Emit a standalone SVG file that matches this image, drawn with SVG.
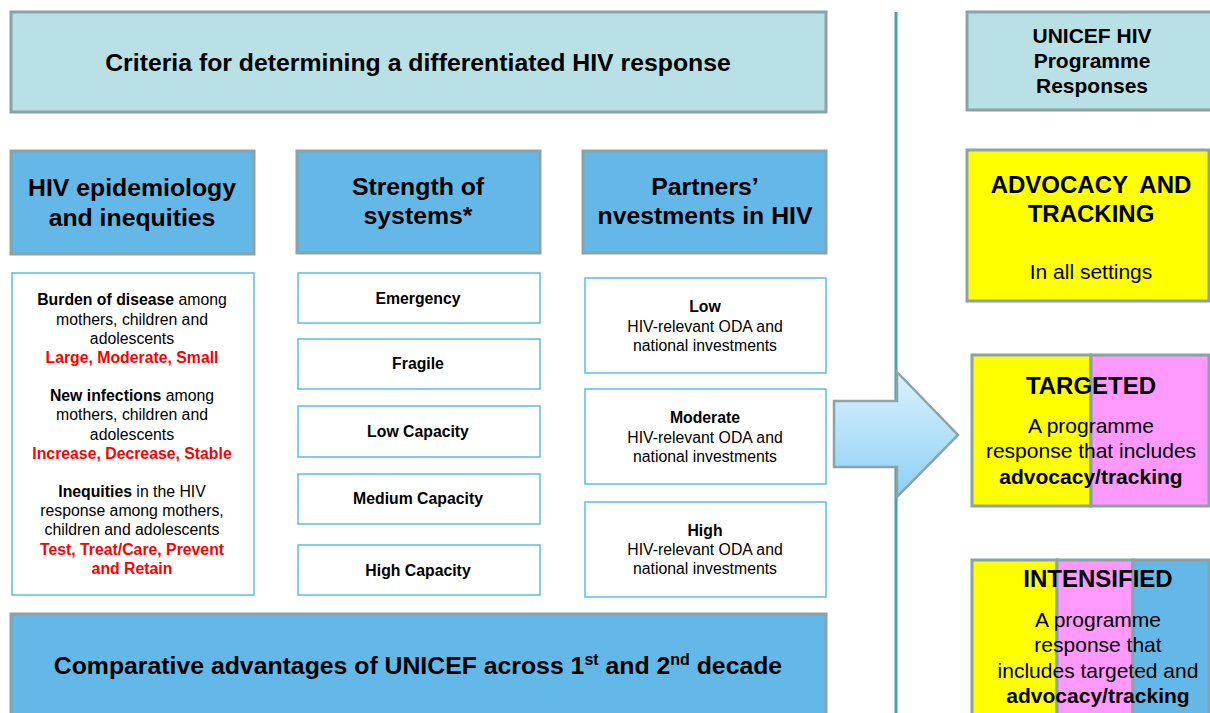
<svg xmlns="http://www.w3.org/2000/svg" width="1210" height="713" viewBox="0 0 1210 713">
  <defs>
    <linearGradient id="arrowFill" x1="0" y1="0" x2="0" y2="1">
      <stop offset="0" stop-color="#DCF1FC"/>
      <stop offset="1" stop-color="#8CD0F6"/>
    </linearGradient>
    <style>
      text { font-family: "Liberation Sans", Arial, sans-serif; fill: #000; text-anchor: middle; }
      .pale { fill: #B9E0E4; stroke: #8AA3A7; stroke-width: 3; }
      .head { fill: #63B8E7; stroke: #8AA3A7; stroke-width: 3; }
      .item { fill: #FFFFFF; stroke: #5BBBEA; stroke-width: 1.5; }
      .yel { fill: #FFFF00; stroke: #8AA3A7; stroke-width: 3; }
      .pink { fill: #FF99FF; stroke: #8AA3A7; stroke-width: 3; }
      .blue { fill: #63B8E7; stroke: #8AA3A7; stroke-width: 3; }
      .t25 { font-size: 24.8px; font-weight: bold; }
      .t24 { font-size: 24px; font-weight: bold; }
      .t21b { font-size: 21px; font-weight: bold; }
      .t21 { font-size: 21px; }
      .s { font-size: 15.8px; }
      .sb { font-size: 15.8px; font-weight: bold; }
      .red { fill: #FF0000; font-weight: bold; }
      .b { font-weight: bold; }
    </style>
  </defs>

  <rect width="1210" height="713" fill="#FFFFFF"/>

  <!-- divider between criteria and programme responses -->
  <g id="divider">
    <line x1="896" y1="12" x2="896" y2="713" stroke="#4F9CA6" stroke-width="3"/>
  </g>

  <!-- title -->
  <g id="criteria-title">
    <rect class="pale" x="11" y="12" width="815" height="100"/>
    <text class="t25" x="418" y="71">Criteria for determining a differentiated HIV response</text>
  </g>

  <!-- column headers -->
  <g id="hdr-epidemiology">
    <rect class="head" x="11" y="151" width="243" height="103"/>
    <text class="t25" x="132" y="196">HIV epidemiology</text>
    <text class="t25" x="132" y="226">and inequities</text>
  </g>
  <g id="hdr-systems">
    <rect class="head" x="297" y="151" width="243" height="102"/>
    <text class="t25" x="418" y="195">Strength of</text>
    <text class="t25" x="418" y="224">systems*</text>
  </g>
  <g id="hdr-investments">
    <rect class="head" x="583" y="151" width="243" height="102"/>
    <text class="t25" x="705" y="195">Partners’</text>
    <text class="t25" x="705" y="224">nvestments in HIV</text>
  </g>

  <!-- epidemiology criteria -->
  <g id="epi-criteria">
    <rect class="item" x="12" y="273" width="242" height="322"/>
    <text class="s" x="132" y="305"><tspan class="b">Burden of disease</tspan> among</text>
    <text class="s" x="132" y="325">mothers, children and</text>
    <text class="s" x="132" y="344">adolescents</text>
    <text class="s red" x="132" y="363">Large, Moderate, Small</text>
    <text class="s" x="132" y="401"><tspan class="b">New infections</tspan> among</text>
    <text class="s" x="132" y="420">mothers, children and</text>
    <text class="s" x="132" y="440">adolescents</text>
    <text class="s red" x="132" y="459">Increase, Decrease, Stable</text>
    <text class="s" x="132" y="497"><tspan class="b">Inequities</tspan> in the HIV</text>
    <text class="s" x="132" y="516">response among mothers,</text>
    <text class="s" x="132" y="535">children and adolescents</text>
    <text class="s red" x="132" y="555">Test, Treat/Care, Prevent</text>
    <text class="s red" x="132" y="574">and Retain</text>
  </g>

  <!-- systems strength levels -->
  <g id="sys-emergency">
    <rect class="item" x="298" y="273" width="242" height="50"/>
    <text class="sb" x="418" y="304">Emergency</text>
  </g>
  <g id="sys-fragile">
    <rect class="item" x="298" y="339" width="242" height="50"/>
    <text class="sb" x="418" y="369">Fragile</text>
  </g>
  <g id="sys-low">
    <rect class="item" x="298" y="406" width="242" height="51"/>
    <text class="sb" x="418" y="437">Low Capacity</text>
  </g>
  <g id="sys-medium">
    <rect class="item" x="298" y="474" width="242" height="50"/>
    <text class="sb" x="418" y="504">Medium Capacity</text>
  </g>
  <g id="sys-high">
    <rect class="item" x="298" y="545" width="242" height="50"/>
    <text class="sb" x="418" y="576">High Capacity</text>
  </g>

  <!-- investment levels -->
  <g id="inv-low">
    <rect class="item" x="585" y="278" width="241" height="95"/>
    <text class="sb" x="705" y="312">Low</text>
    <text class="s" x="705" y="332">HIV-relevant ODA and</text>
    <text class="s" x="705" y="351">national investments</text>
  </g>
  <g id="inv-moderate">
    <rect class="item" x="585" y="389" width="241" height="95"/>
    <text class="sb" x="705" y="423">Moderate</text>
    <text class="s" x="705" y="443">HIV-relevant ODA and</text>
    <text class="s" x="705" y="462">national investments</text>
  </g>
  <g id="inv-high">
    <rect class="item" x="585" y="502" width="241" height="95"/>
    <text class="sb" x="705" y="536">High</text>
    <text class="s" x="705" y="555">HIV-relevant ODA and</text>
    <text class="s" x="705" y="574">national investments</text>
  </g>

  <!-- comparative advantages -->
  <g id="comparative">
    <rect class="head" x="11" y="614" width="815" height="110"/>
    <text class="t25" x="418" y="674">Comparative advantages of UNICEF across 1<tspan font-size="16" dy="-9">st</tspan><tspan dy="9"> and 2</tspan><tspan font-size="16" dy="-9">nd</tspan><tspan dy="9"> decade</tspan></text>
  </g>

  <!-- block arrow from criteria to responses -->
  <g id="connectors">
    <polygon points="834,401 897,401 897,372 958,435 897,497 897,467 834,467" fill="url(#arrowFill)" stroke="#8AA5AA" stroke-width="2.5" stroke-linejoin="miter"/>
  </g>

  <!-- programme responses -->
  <g id="resp-title">
    <rect class="pale" x="967" y="12" width="250" height="98"/>
    <text class="t21b" x="1092" y="43">UNICEF HIV</text>
    <text class="t21b" x="1092" y="68">Programme</text>
    <text class="t21b" x="1092" y="93">Responses</text>
  </g>
  <g id="resp-advocacy">
    <rect class="yel" x="967" y="150" width="242" height="151"/>
    <text class="t24" x="1091" y="193" word-spacing="6">ADVOCACY AND</text>
    <text class="t24" x="1091" y="222">TRACKING</text>
    <text class="t21" x="1091" y="279">In all settings</text>
  </g>
  <g id="resp-targeted">
    <rect class="yel" x="972" y="355" width="119" height="151"/>
    <rect class="pink" x="1091" y="355" width="118" height="151"/>
    <text class="t24" x="1091" y="394">TARGETED</text>
    <text class="t21" x="1091" y="433">A programme</text>
    <text class="t21" x="1091" y="458">response that includes</text>
    <text class="t21b" x="1091" y="484">advocacy/tracking</text>
  </g>
  <g id="resp-intensified">
    <rect class="yel" x="972" y="560" width="85" height="160"/>
    <rect class="pink" x="1057" y="560" width="76" height="160"/>
    <rect class="blue" x="1133" y="560" width="76" height="160"/>
    <text class="t24" x="1098" y="587">INTENSIFIED</text>
    <text class="t21" x="1098" y="627">A programme</text>
    <text class="t21" x="1098" y="652">response that</text>
    <text class="t21" x="1098" y="678">includes targeted and</text>
    <text class="t21b" x="1098" y="703">advocacy/tracking</text>
  </g>
</svg>
